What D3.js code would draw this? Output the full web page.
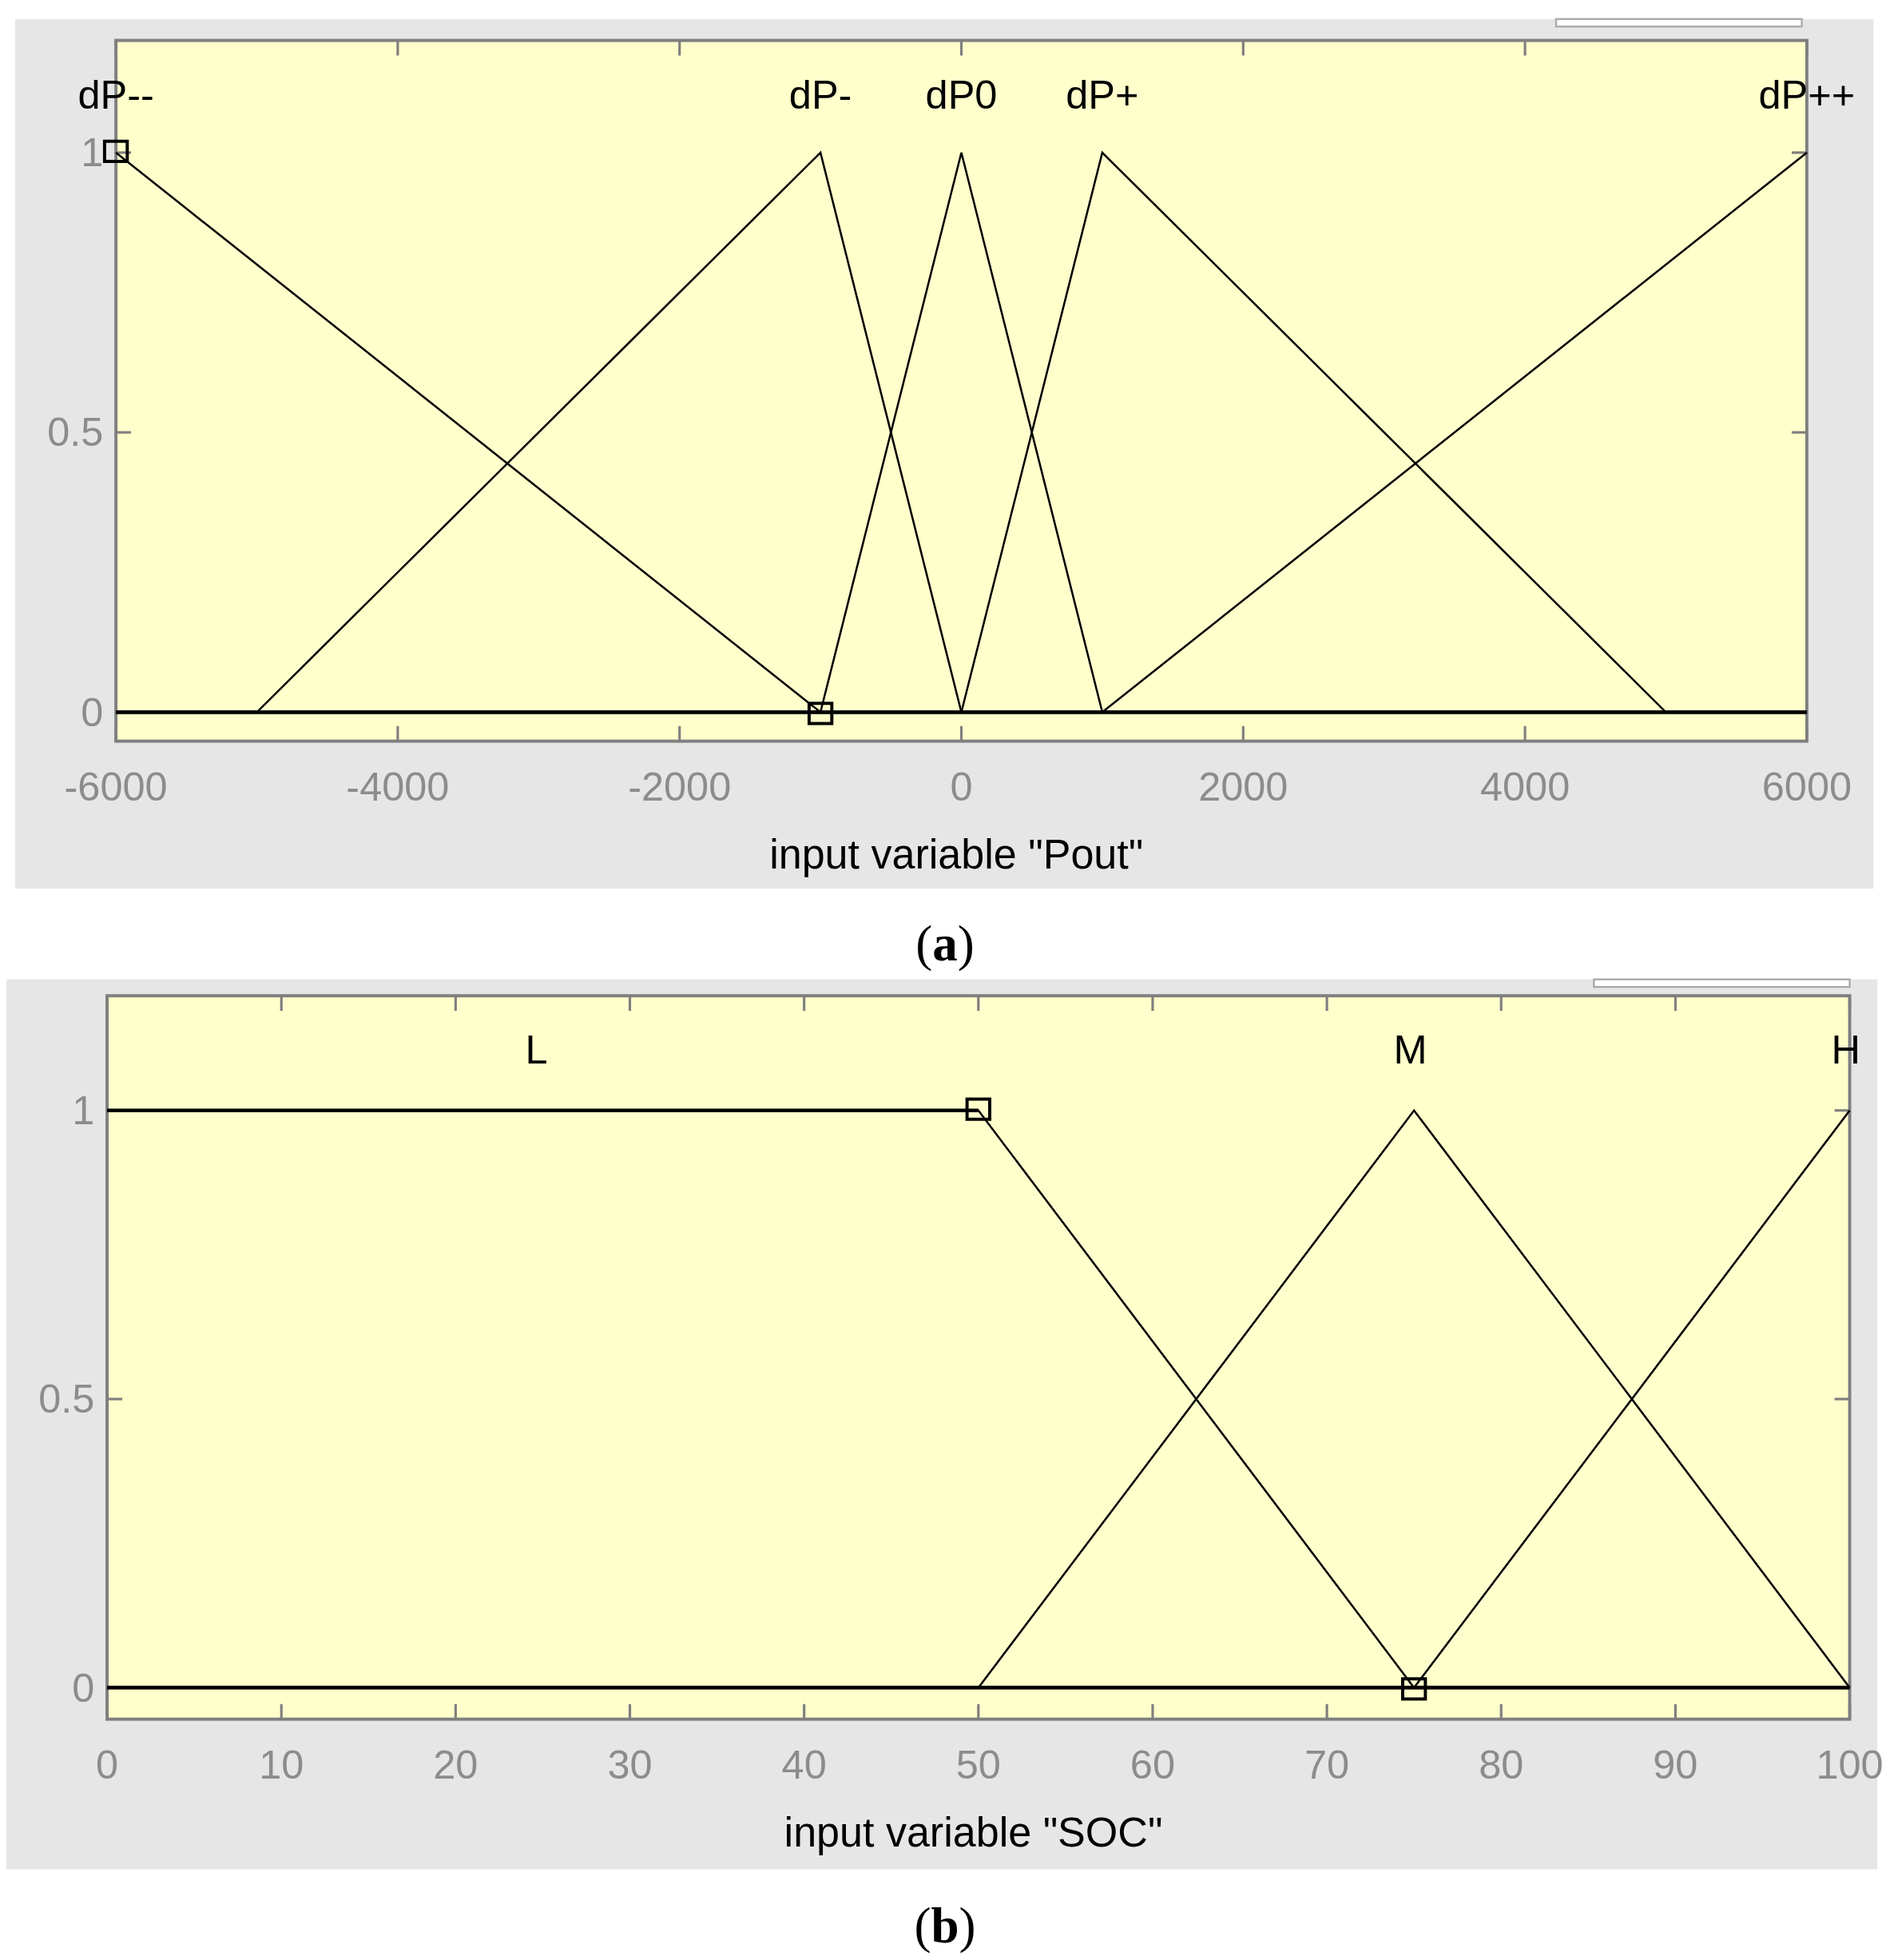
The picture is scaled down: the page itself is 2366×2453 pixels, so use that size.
<!DOCTYPE html>
<html><head><meta charset="utf-8">
<script src="https://cdn.jsdelivr.net/npm/d3@7"></script>
<style>body{margin:0;background:#fff}</style>
</head><body>
<div id="chart"></div>
<script>
// Panel (a): Pout membership functions
const poutNames = ['dP--', 'dP-', 'dP0', 'dP+', 'dP++'];
const poutX = [[-6000, -6000, -1000], [-5000, -1000, 0], [-1000, 0, 1000], [0, 1000, 5000], [1000, 6000, 6000]];
const poutY = [[1, 1, 0], [0, 1, 0], [0, 1, 0], [0, 1, 0], [0, 1, 1]];
const poutPeaks = [-6000, -1000, 0, 1000, 6000];
const poutTicks = [-6000, -4000, -2000, 0, 2000, 4000, 6000];

// Panel (b): SOC membership functions
const socNames = ['L', 'M', 'H'];
const socX = [[0, 50, 75], [50, 75, 100], [75, 100, 100]];
const socY = [[1, 1, 0], [0, 1, 0], [0, 1, 1]];
const socLabelX = [25, 75, 100];
const socTicks = [0, 10, 20, 30, 40, 50, 60, 70, 80, 90, 100];

const yTicks = [0, 0.5, 1];

const svg = d3.select('#chart').append('svg')
  .attr('width', 2366).attr('height', 2453)
  .attr('viewBox', '0 0 1500 1555')
  .style('font-family', 'Liberation Sans, Arial, sans-serif');

function panel(cfg) {
  const g = svg.append('g');
  g.append('rect').attr('x', cfg.bg[0]).attr('y', cfg.bg[1])
    .attr('width', cfg.bg[2] - cfg.bg[0]).attr('height', cfg.bg[3] - cfg.bg[1]).attr('fill', '#e6e6e6');
  g.append('rect').attr('x', cfg.wbox[0]).attr('y', cfg.bg[1])
    .attr('width', cfg.wbox[1] - cfg.wbox[0]).attr('height', 6).attr('fill', '#fff')
    .attr('stroke', '#aaa').attr('stroke-width', 1.5);

  const x = d3.scaleLinear().domain(cfg.domain).range([cfg.left, cfg.right]);
  const y = d3.scaleLinear().domain([0, 1]).range([cfg.y0, cfg.y1]);

  g.append('rect').attr('x', cfg.left).attr('y', cfg.top)
    .attr('width', cfg.right - cfg.left).attr('height', cfg.bottom - cfg.top)
    .attr('fill', '#ffffcc').attr('stroke', '#7f7f7f').attr('stroke-width', 2.5);

  // ticks inside the frame
  cfg.ticks.forEach(t => {
    g.append('line').attr('x1', x(t)).attr('x2', x(t)).attr('y1', cfg.top).attr('y2', cfg.top + 12).attr('stroke', '#7f7f7f').attr('stroke-width', 2);
    g.append('line').attr('x1', x(t)).attr('x2', x(t)).attr('y1', cfg.bottom).attr('y2', cfg.bottom - 12).attr('stroke', '#7f7f7f').attr('stroke-width', 2);
    g.append('text').attr('x', x(t)).attr('y', cfg.bottom + 47).attr('text-anchor', 'middle')
      .attr('font-size', 32).attr('fill', '#8c8c8c').text(t);
  });
  yTicks.forEach(t => {
    g.append('line').attr('x1', cfg.left).attr('x2', cfg.left + 12).attr('y1', y(t)).attr('y2', y(t)).attr('stroke', '#7f7f7f').attr('stroke-width', 2);
    g.append('line').attr('x1', cfg.right).attr('x2', cfg.right - 12).attr('y1', y(t)).attr('y2', y(t)).attr('stroke', '#7f7f7f').attr('stroke-width', 2);
    g.append('text').attr('x', cfg.left - 10).attr('y', y(t) + 11).attr('text-anchor', 'end')
      .attr('font-size', 32).attr('fill', '#8c8c8c').text(t);
  });

  // zero baseline
  g.append('line').attr('x1', cfg.left).attr('x2', cfg.right).attr('y1', y(0)).attr('y2', y(0))
    .attr('stroke', '#000').attr('stroke-width', 3);

  const line = d3.line().x(d => x(d[0])).y(d => y(d[1]));
  cfg.xs.forEach((xs, i) => {
    const pts = xs.map((v, j) => [v, cfg.ys[i][j]]);
    g.append('path').attr('d', line(pts)).attr('fill', 'none').attr('stroke', '#000')
      .attr('stroke-width', cfg.thick && cfg.thick[i] ? 1.6 : 1.6);
  });
  if (cfg.flat) {
    g.append('line').attr('x1', x(cfg.flat[0])).attr('x2', x(cfg.flat[1])).attr('y1', y(1)).attr('y2', y(1))
      .attr('stroke', '#000').attr('stroke-width', 3);
  }
  cfg.markers.forEach(m => {
    g.append('rect').attr('x', x(m[0]) - 9).attr('y', y(m[1]) - 9 + (m[2] || 0))
      .attr('width', 18).attr('height', 16).attr('fill', 'none').attr('stroke', '#000').attr('stroke-width', 2.5);
  });
  cfg.names.forEach((n, i) => {
    g.append('text').attr('x', x(cfg.labelX[i]) + (cfg.labelDx[i] || 0)).attr('y', cfg.labelY)
      .attr('text-anchor', 'middle').attr('font-size', 32).attr('fill', '#000').text(n);
  });
  g.append('text').attr('x', (cfg.left + cfg.right) / 2 - 4).attr('y', cfg.bottom + 101)
    .attr('text-anchor', 'middle').attr('font-size', 33).attr('fill', '#000').text(cfg.xlabel);
  g.append('text').attr('x', 750).attr('y', cfg.caption).attr('text-anchor', 'middle')
    .attr('font-family', 'Liberation Serif, Times New Roman, serif').attr('font-size', 40).attr('fill', '#000')
    .html(cfg.capText);
}

panel({
  bg: [12, 15, 1487, 705], wbox: [1235, 1430],
  left: 92, right: 1434, top: 32, bottom: 588, y0: 565, y1: 121,
  domain: [-6000, 6000], ticks: poutTicks,
  xs: poutX, ys: poutY, names: poutNames, labelX: poutPeaks, labelDx: [0, 0, 0, 0, 0], labelY: 86,
  markers: [[-1000, 0, 2], [-6000, 1, 0]],
  xlabel: 'input variable "Pout"', caption: 762, capText: '(<tspan font-weight="bold">a</tspan>)'
});

panel({
  bg: [5, 777, 1490, 1483], wbox: [1265, 1468],
  left: 85, right: 1468, top: 790, bottom: 1364, y0: 1339, y1: 881,
  domain: [0, 100], ticks: socTicks,
  xs: socX, ys: socY, names: socNames, labelX: socLabelX, labelDx: [-5, -3, -3], labelY: 844,
  markers: [[50, 1, 0], [75, 0, 2]], flat: [0, 50],
  xlabel: 'input variable "SOC"', caption: 1541, capText: '(<tspan font-weight="bold">b</tspan>)'
});
</script>
</body></html>
